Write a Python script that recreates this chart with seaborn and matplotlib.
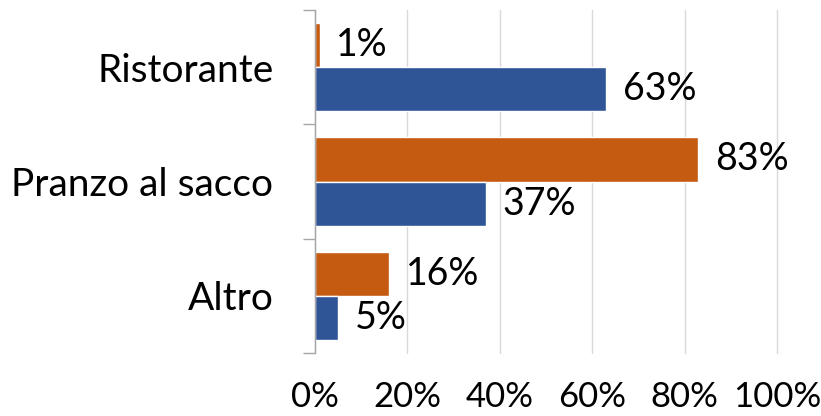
import pandas as pd
import matplotlib
matplotlib.use("Agg")
import matplotlib.pyplot as plt
import seaborn as sns
from matplotlib.ticker import FixedLocator, PercentFormatter

# dati
categorie = ["Ristorante", "Pranzo al sacco", "Altro"]
serie = ["Serie 1", "Serie 2"]
valori_arancio = [1, 83, 16]
valori_blu = [63, 37, 5]
colori = ["#C55A11", "#2F5597"]
tick_x = [0, 20, 40, 60, 80, 100]

df = pd.DataFrame({
    "categoria": categorie * 2,
    "serie": [serie[0]] * 3 + [serie[1]] * 3,
    "valore": valori_arancio + valori_blu,
})

sns.set_style("white")
plt.rcParams["font.family"] = ["Lato", "DejaVu Sans"]
plt.rcParams["text.color"] = "black"
plt.rcParams["xtick.color"] = "black"
plt.rcParams["ytick.color"] = "black"

fig = plt.figure(figsize=(8.21, 4.16), dpi=100)
ax = fig.add_axes([0.3837, 0.1514, 0.5627, 0.8246])

sns.barplot(
    data=df, y="categoria", x="valore", hue="serie",
    order=categorie, hue_order=serie, palette=colori,
    orient="h", width=0.772, legend=False, ax=ax, saturation=1,
)

for cont in ax.containers:
    ax.bar_label(cont, fmt="%d%%", padding=12, fontsize=27, color="black")

ax.set_xlim(0, 100)
ax.set_ylim(2.5, -0.5)
ax.xaxis.set_major_locator(FixedLocator(tick_x))
ax.xaxis.set_major_formatter(PercentFormatter(decimals=0))
ax.grid(axis="x", color="#d9d9d9", linewidth=1)
for gl in ax.get_xgridlines():
    gl.set_clip_on(False)
ax.set_axisbelow(True)
ax.set_xlabel("")
ax.set_ylabel("")

for s in ["top", "right", "bottom"]:
    ax.spines[s].set_visible(False)
ax.spines["left"].set_color("#a6a6a6")
ax.spines["left"].set_linewidth(1)

ax.tick_params(axis="x", length=0, pad=20, labelsize=25, labelcolor="black")
ax.tick_params(axis="y", which="major", length=0, pad=30, labelsize=28, labelcolor="black")
ax.set_yticks([-0.5, 0.5, 1.5, 2.5], minor=True)
ax.tick_params(axis="y", which="minor", left=True, length=9, width=1,
               color="#a6a6a6", direction="out")

fig.savefig("out.png", dpi=100)
